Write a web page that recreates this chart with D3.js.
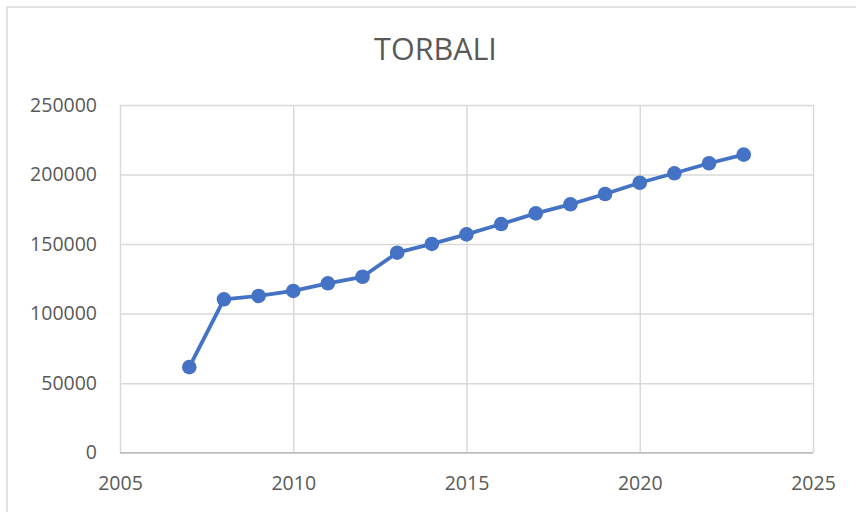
<!DOCTYPE html>
<html><head><meta charset="utf-8">
<script src="https://cdn.jsdelivr.net/npm/d3@7"></script>
<style>html,body{margin:0;padding:0;background:#fff;}svg{display:block;}</style>
</head><body>
<svg id="chart" width="856" height="512"></svg>
<script>
const title = "TORBALI";
const years = [2007,2008,2009,2010,2011,2012,2013,2014,2015,2016,2017,2018,2019,2020,2021,2022,2023];
const values = [61500,110300,112700,116300,121800,126500,143800,150100,157000,164400,172100,178600,186000,194100,200900,208100,214300];
const xTicks = [2005,2010,2015,2020,2025];
const yTicks = [0,50000,100000,150000,200000,250000];

const svg = d3.select("#chart");
const font = "'Open Sans', sans-serif";
const L = 120, R = 813, T = 105, B = 452.7;

svg.append("rect").attr("x",7).attr("y",7).attr("width",870).attr("height",530)
  .attr("fill","#fff").attr("stroke","#d9d9d9").attr("stroke-width",1.5);

const x = d3.scaleLinear().domain([2005,2025]).range([L,R]);
const y = d3.scaleLinear().domain([0,250000]).range([B,T]);

const gy = svg.append("g").attr("transform",`translate(${L},0)`)
  .call(d3.axisLeft(y).tickValues(yTicks).tickSize(-(R-L)).tickFormat(d=>d).tickPadding(23));
gy.select(".domain").remove();
gy.selectAll(".tick line").attr("stroke","#d9d9d9").attr("stroke-width",1.5);
gy.selectAll(".tick text").attr("fill","#595959").style("font-family",font).style("font-size","19.5px");

const gx = svg.append("g").attr("transform",`translate(0,${B})`)
  .call(d3.axisBottom(x).tickValues(xTicks).tickSize(-(B-T)).tickFormat(d=>d).tickPadding(23));
gx.select(".domain").remove();
gx.selectAll(".tick line").attr("stroke","#d9d9d9").attr("stroke-width",1.5);
gx.selectAll(".tick text").attr("fill","#595959").style("font-family",font).style("font-size","19.5px");

svg.append("line").attr("x1",L).attr("x2",R).attr("y1",y(0)).attr("y2",y(0))
  .attr("stroke","#bfbfbf").attr("stroke-width",1.5);

const data = years.map((yr,i)=>({yr, v: values[i]}));
svg.append("path").datum(data)
  .attr("fill","none").attr("stroke","#4472C4").attr("stroke-width",3.8)
  .attr("stroke-linejoin","round")
  .attr("d", d3.line().x(d=>x(d.yr)).y(d=>y(d.v)));
svg.append("g").selectAll("circle").data(data).join("circle")
  .attr("cx",d=>x(d.yr)).attr("cy",d=>y(d.v)).attr("r",7.3).attr("fill","#4472C4");

svg.append("text").attr("x",435.5).attr("y",60).attr("text-anchor","middle")
  .attr("fill","#595959").style("font-family",font).style("font-size","30.5px").text(title);
</script>
</body></html>
